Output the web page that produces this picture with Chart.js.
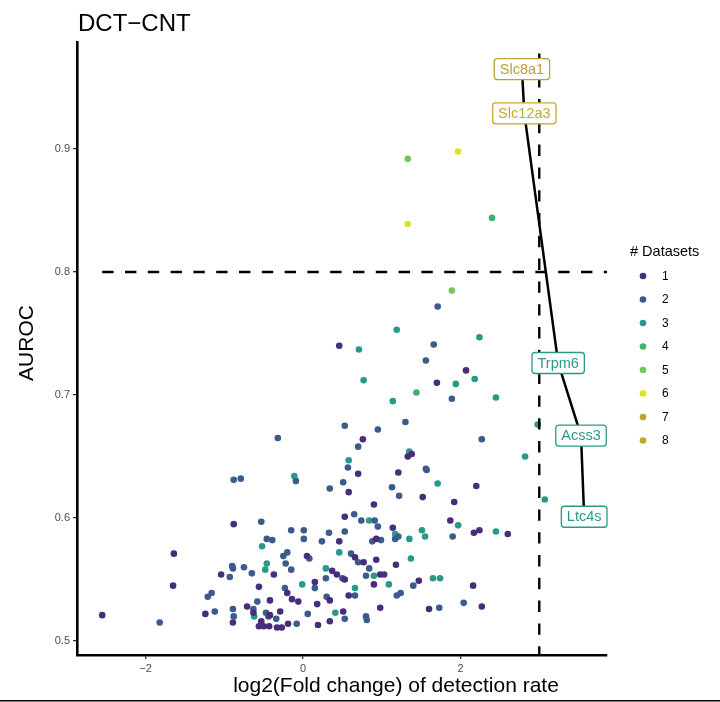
<!DOCTYPE html>
<html>
<head>
  <meta charset="utf-8">
  <title>DCT-CNT AUROC</title>
  <script src="https://cdn.jsdelivr.net/npm/chart.js"></script>
  <style>
    html, body {
      margin: 0;
      padding: 0;
      background-color: #fff;
    }

    canvas {
      display: block;
    }
  </style>
</head>
<body>
  <canvas id="myChart" width="720" height="702"></canvas>

  <script>
    const FONT = '"Liberation Sans", Arial, Helvetica, sans-serif';

    // # datasets a gene was found in, and the colour for each count
    const datasetCounts = [1, 2, 3, 4, 5, 6, 7, 8];
    const countColors = ['#472D7B', '#3B5B8C', '#2A9A88', '#3DB46E', '#74C65A', '#DCE128', '#BBA235', '#C4A82E'];

    // log2 fold change / AUROC per gene, split by dataset count
    const fc1 = [0.70, 1.21, 0.58, 0.90, -0.88, 0.53, 1.14, 0.46, 0.93, 0.05, 0.66, 0.77, 0.93, 1.18, -0.37, -1.04, 0.37, 0.43, 0.53, 0.98, 1.03, 0.90, -0.56, 0.15, -0.20, -0.42, -0.14, -0.06, 0.18, 0.34, 0.58, -0.71, -0.63, -0.42, -0.29, -0.89, -0.53, -0.56, -0.50, -0.43, -0.33, -0.27, -0.19, 0.19, 0.34, 0.51, 0.98, 2.20, 1.52, 1.92, 1.87, 2.17, 2.24, 2.60, 1.47, 2.16, 1.60, 2.27, -1.64, -1.65, -2.55, -1.24, 0.46, 0.76, 2.07, 1.70, 1.38, 1.33];
    const auc1 = [0.636, 0.637, 0.621, 0.611, 0.595, 0.601, 0.592, 0.581, 0.583, 0.569, 0.568, 0.564, 0.566, 0.562, 0.554, 0.554, 0.557, 0.554, 0.550, 0.554, 0.554, 0.546, 0.544, 0.548, 0.539, 0.533, 0.534, 0.532, 0.530, 0.533, 0.537, 0.528, 0.523, 0.521, 0.524, 0.515, 0.516, 0.512, 0.512, 0.512, 0.511, 0.511, 0.514, 0.513, 0.516, 0.524, 0.527, 0.626, 0.617, 0.613, 0.598, 0.588, 0.590, 0.587, 0.549, 0.545, 0.526, 0.528, 0.571, 0.545, 0.521, 0.522, 0.740, 0.664, 0.720, 0.710, 0.652, 0.650];

    const fc2 = [-0.88, -0.79, -0.09, 0.57, 0.34, 0.51, 1.13, -0.53, 0.65, 0.74, 0.91, 0.95, -0.15, 0.01, 0.33, 0.53, 0.01, -0.46, -0.39, 0.24, 0.88, 0.99, 1.17, 1.21, -0.25, -0.20, 0.08, 0.61, 0.70, -0.90, -0.89, -0.75, -0.65, -0.22, -0.15, -0.93, 0.29, 0.50, 0.80, 0.84, 1.19, 1.24, 0.15, -0.23, -0.58, 0.30, 0.66, -0.63, -0.89, -0.88, -0.47, -0.44, -0.34, -0.08, 0.06, 0.53, 0.80, 0.81, 1.57, 1.22, 1.90, 1.40, 1.73, 2.04, -1.21, -1.16, -1.12, -1.82, 0.53, -0.32, 0.95, 0.70, 1.71, 1.66, 1.56, 1.89, 1.30, 2.27, 1.56];
    const auc2 = [0.631, 0.632, 0.630, 0.641, 0.624, 0.629, 0.625, 0.597, 0.603, 0.598, 0.598, 0.593, 0.590, 0.590, 0.588, 0.589, 0.583, 0.583, 0.582, 0.581, 0.581, 0.582, 0.583, 0.585, 0.569, 0.572, 0.567, 0.571, 0.564, 0.561, 0.559, 0.560, 0.555, 0.563, 0.558, 0.552, 0.551, 0.551, 0.553, 0.559, 0.537, 0.539, 0.543, 0.543, 0.532, 0.536, 0.537, 0.526, 0.526, 0.520, 0.523, 0.520, 0.518, 0.514, 0.522, 0.518, 0.520, 0.517, 0.639, 0.618, 0.585, 0.545, 0.527, 0.531, 0.536, 0.539, 0.524, 0.515, 0.675, 0.665, 0.672, 0.658, 0.772, 0.741, 0.728, 0.697, 0.678, 0.664, 0.640];

    const fc3 = [-0.11, 0.58, 0.84, 1.17, -0.52, 0.46, -0.46, -0.48, 0.29, 0.90, 1.09, -0.01, 0.66, 0.41, -0.62, 1.71, 3.07, 1.97, 1.35, 1.51, 1.55, 2.45, 1.37, 1.65, 1.74, 1.19, 0.71, 0.77, 1.14, 2.24, 1.94, 2.18, 2.45, 2.98, 1.35, 2.82];
    const auc3 = [0.634, 0.647, 0.598, 0.587, 0.577, 0.572, 0.563, 0.558, 0.559, 0.553, 0.546, 0.546, 0.543, 0.523, 0.520, 0.628, 0.615, 0.594, 0.583, 0.590, 0.585, 0.589, 0.567, 0.551, 0.551, 0.753, 0.737, 0.712, 0.695, 0.747, 0.709, 0.713, 0.698, 0.676, 0.654, 0.650];

    const fc4 = [2.40, 1.44];
    const auc4 = [0.844, 0.702];
    const fc5 = [1.33, 1.89];
    const auc5 = [0.892, 0.785];
    const fc6 = [1.97, 1.33];
    const auc6 = [0.898, 0.839];

    // highlighted markers, joined by a line and labelled
    const labelGenes = ['Slc8a1', 'Slc12a3', 'Trpm6', 'Acss3', 'Ltc4s'];
    const labelFC = [2.78, 2.81, 3.24, 3.53, 3.57];
    const labelAUC = [0.965, 0.929, 0.726, 0.667, 0.601];
    const labelCount = [7, 8, 3, 3, 3];

    // cut-offs and axes
    const fcCut = 3;
    const aucCut = 0.8;
    const xRange = [-2.87, 3.86];
    const yRange = [0.4886, 0.987];
    const xTicks = [-2, 0, 2];
    const yTicks = [0.5, 0.6, 0.7, 0.8, 0.9];

    const groups = [[fc1, auc1], [fc2, auc2], [fc3, auc3], [fc4, auc4], [fc5, auc5], [fc6, auc6]];

    const pointSets = groups.map((g, i) => ({
      type: 'scatter',
      data: g[0].map((v, j) => ({ x: v, y: g[1][j] })),
      backgroundColor: countColors[i],
      borderWidth: 0,
      pointRadius: 3.3,
      order: 10 + i
    }));

    const dashStyle = {
      type: 'line',
      borderColor: '#000',
      borderWidth: 2.4,
      borderDash: [11.4, 11.4],
      pointRadius: 0,
      fill: false,
      tension: 0
    };

    const datasets = [
      {
        type: 'line',
        data: labelFC.map((v, i) => ({ x: v, y: labelAUC[i] })),
        borderColor: '#000',
        borderWidth: 2.5,
        pointRadius: 3.3,
        pointBorderWidth: 0,
        pointBackgroundColor: labelCount.map(c => countColors[c - 1]),
        fill: false,
        tension: 0,
        order: 1
      },
      Object.assign({}, dashStyle, {
        data: [{ x: fcCut, y: yRange[1] }, { x: fcCut, y: yRange[0] }],
        borderDashOffset: 11.4,
        order: 2
      }),
      Object.assign({}, dashStyle, {
        data: [{ x: Math.min(...fc1), y: aucCut }, { x: xRange[1], y: aucCut }],
        order: 3
      })
    ].concat(pointSets);

    const fmtMinus = v => (v < 0 ? '\u2212' + Math.abs(v) : String(v));

    const decorations = {
      id: 'decorations',
      afterDraw(chart) {
        const { ctx, scales: { x, y } } = chart;
        ctx.save();

        // gene labels
        ctx.font = '14.5px ' + FONT;
        labelGenes.forEach((g, i) => {
          const px = x.getPixelForValue(labelFC[i]);
          const py = y.getPixelForValue(labelAUC[i]);
          const col = countColors[labelCount[i] - 1];
          const w = ctx.measureText(g).width + 11;
          const h = 21;
          ctx.beginPath();
          ctx.roundRect(px - w / 2, py - h / 2, w, h, 3);
          ctx.fillStyle = '#fff';
          ctx.fill();
          ctx.lineWidth = 1.3;
          ctx.strokeStyle = col;
          ctx.stroke();
          ctx.fillStyle = col;
          ctx.textAlign = 'center';
          ctx.textBaseline = 'middle';
          ctx.fillText(g, px, py + 0.5);
        });

        // title
        ctx.fillStyle = '#000';
        ctx.textAlign = 'left';
        ctx.textBaseline = 'alphabetic';
        ctx.font = '24px ' + FONT;
        ctx.fillText('DCT\u2212CNT', 78, 31);

        // axis titles
        ctx.font = '21px ' + FONT;
        ctx.textAlign = 'center';
        ctx.fillText('log2(Fold change) of detection rate', 396, 692);
        ctx.save();
        ctx.translate(33, 343);
        ctx.rotate(-Math.PI / 2);
        ctx.font = '21px ' + FONT;
        ctx.fillText('AUROC', 0, 0);
        ctx.restore();

        // legend
        ctx.textAlign = 'left';
        ctx.font = '14.5px ' + FONT;
        ctx.fillText('# Datasets', 630, 256);
        ctx.font = '12px ' + FONT;
        ctx.textBaseline = 'middle';
        datasetCounts.forEach((c, i) => {
          const ly = 276 + i * 23.5;
          ctx.beginPath();
          ctx.arc(643, ly, 3.3, 0, Math.PI * 2);
          ctx.fillStyle = countColors[i];
          ctx.fill();
          ctx.fillStyle = '#000';
          ctx.fillText(String(c), 662, ly + 0.5);
        });

        // rule under the figure
        ctx.fillStyle = '#000';
        ctx.fillRect(0, 700, 720, 1.5);
        ctx.restore();
      }
    };

    const ctx = document.getElementById('myChart').getContext('2d');
    const chart = new Chart(ctx, {
      data: { datasets: datasets },
      options: {
        responsive: false,
        animation: false,
        events: [],
        layout: { padding: { top: 42, right: 113, left: 0, bottom: 0 } },
        plugins: {
          legend: { display: false },
          tooltip: { enabled: false },
          title: { display: false }
        },
        scales: {
          x: {
            type: 'linear',
            min: xRange[0],
            max: xRange[1],
            afterBuildTicks: s => { s.ticks = xTicks.map(v => ({ value: v })); },
            afterFit: s => { s.height = 47; },
            grid: { drawOnChartArea: false, drawTicks: true, tickLength: 4, color: '#333', lineWidth: 1.3 },
            border: { display: true, color: '#000', width: 2.6 },
            ticks: {
              font: { family: FONT, size: 11 },
              color: '#4D4D4D',
              padding: 3,
              maxRotation: 0,
              callback: v => fmtMinus(v)
            }
          },
          y: {
            type: 'linear',
            min: yRange[0],
            max: yRange[1],
            afterBuildTicks: s => { s.ticks = yTicks.map(v => ({ value: v })); },
            afterFit: s => { s.width = 77; },
            grid: { drawOnChartArea: false, drawTicks: true, tickLength: 4, color: '#333', lineWidth: 1.3 },
            border: { display: true, color: '#000', width: 2.6 },
            ticks: {
              font: { family: FONT, size: 11 },
              color: '#4D4D4D',
              padding: 3,
              callback: v => v.toFixed(1)
            }
          }
        }
      },
      plugins: [decorations]
    });
  </script>
</body>
</html>
